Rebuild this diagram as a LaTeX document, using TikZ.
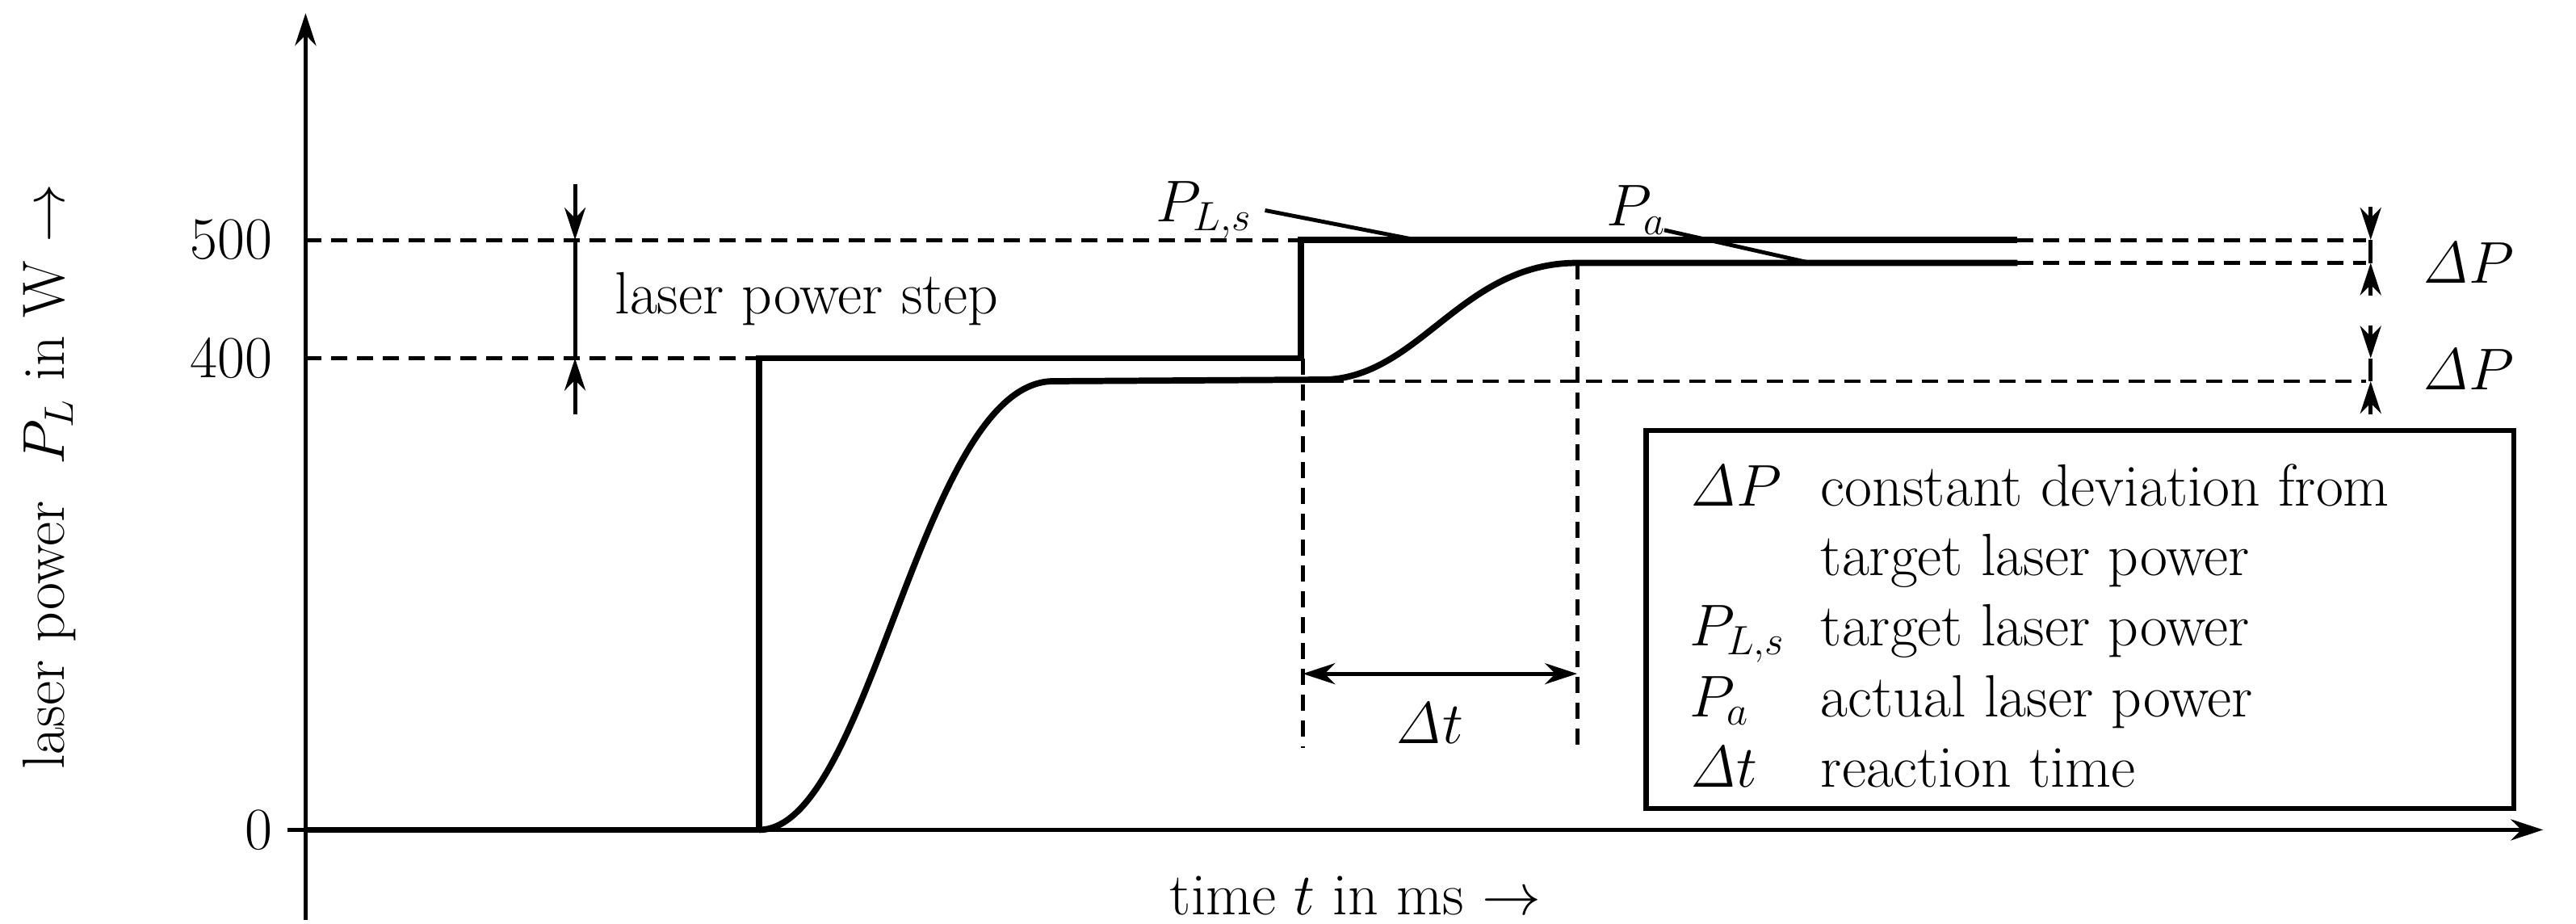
\documentclass[tikz,border=0pt]{standalone}
\usetikzlibrary{arrows.meta}
\begin{document}
\begin{tikzpicture}[x=0.02034cm,y=-0.02034cm,
  thk/.style={line width=2.2pt},
  dsh/.style={line width=1.4pt,dash pattern=on 0.2cm off 0.12cm},
  ar/.style={-{Stealth[length=0.4cm,width=0.26cm]}},
  lbl/.style={font=\fontsize{21}{25}\selectfont,inner sep=0pt},
  leg/.style={font=\fontsize{21}{25}\selectfont,inner sep=0pt,anchor=base west}]
\useasboundingbox (0,0) rectangle (1568,562);
% axes
\coordinate (yb) at (186,560); \coordinate (yt) at (186,8);
\coordinate (xl) at (175,505); \coordinate (xr) at (1548,505);
\draw[line width=1.6pt,ar] (yb) -- (yt);
\draw[line width=1.6pt,ar] (xl) -- (xr);
% tick labels
\node[lbl,anchor=east] (t500) at (166,146) {500};
\node[lbl,anchor=east] (t400) at (166,218) {400};
\node[lbl,anchor=east] (t0) at (166,505) {0};
\coordinate (a500) at (186,146); \coordinate (a400) at (186,218);
% dashed guides
\draw[dsh] (a500) -- (792,146);
\draw[dsh] (a400) -- (462,218);
\draw[dsh] (1228,146) -- (1440,146);
\draw[dsh] (1228,160) -- (1440,160);
\draw[dsh] (808,232) -- (1440,232);
\draw[dsh] (793,218) -- (793,455);
\draw[dsh] (960,160) -- (960,455);
% target power
\draw[thk] (186,505) -- (462,505) -- (462,218) -- (792,218) -- (792,146) -- (1228,146);
% actual power
\draw[thk] (462,505) .. controls (530,505) and (560,235) .. (640,232) -- (808,231)
  .. controls (865,228) and (890,160) .. (960,160) -- (1228,160);
% laser power step
\draw[line width=1.4pt] (350,146) -- (350,218);
\draw[line width=1.4pt,ar] (350,112) -- (350,146);
\draw[line width=1.4pt,ar] (350,252) -- (350,218);
\node[lbl,anchor=west] (lps) at (374,182) {laser power step};
% delta P arrows
\draw[line width=1.4pt] (1443,146) -- (1443,160);
\draw[line width=1.4pt,ar] (1443,126) -- (1443,146);
\draw[line width=1.4pt,ar] (1443,180) -- (1443,160);
\draw[line width=1.4pt] (1443,218) -- (1443,232);
\draw[line width=1.4pt,ar] (1443,198) -- (1443,218);
\draw[line width=1.4pt,ar] (1443,252) -- (1443,232);
\node[lbl,anchor=west] (dp1) at (1474,160) {$\mathit{\Delta}P$};
\node[lbl,anchor=west] (dp2) at (1474,225) {$\mathit{\Delta}P$};
% delta t
\draw[line width=1.4pt,{Stealth[length=0.4cm,width=0.26cm]}-{Stealth[length=0.4cm,width=0.26cm]}] (793,410) -- (960,410);
\node[lbl] (dt) at (870,440) {$\mathit{\Delta}t$};
% curve labels
\node[lbl] (pls) at (733,128) {$P_{L,s}$};
\node[lbl] (pa) at (996,128) {$P_a$};
\coordinate (plsend) at (862,146); \coordinate (paend) at (1102,160);
\draw[line width=1.4pt] (770,128) -- (plsend);
\draw[line width=1.4pt] (1013,140) -- (paend);
% legend
\draw[line width=1.8pt] (1002,262) rectangle (1530,492);
\node[leg] (l1s) at (1028,308) {$\mathit{\Delta}P$};
\node[leg] (l1t) at (1108,308) {constant deviation from};
\node[leg] (l2t) at (1108,350) {target laser power};
\node[leg] (l3s) at (1028,393) {$P_{L,s}$};
\node[leg] (l3t) at (1108,393) {target laser power};
\node[leg] (l4s) at (1028,436) {$P_a$};
\node[leg] (l4t) at (1108,436) {actual laser power};
\node[leg] (l5s) at (1028,479) {$\mathit{\Delta}t$};
\node[leg] (l5t) at (1108,479) {reaction time};
% axis labels
\node[lbl,rotate=90] (ylab) at (30,290) {laser power\ \ $P_L$ in W $\rightarrow$};
\node[lbl] (xlab) at (825,545) {time $t$ in ms $\rightarrow$};
\end{tikzpicture}
\end{document}
